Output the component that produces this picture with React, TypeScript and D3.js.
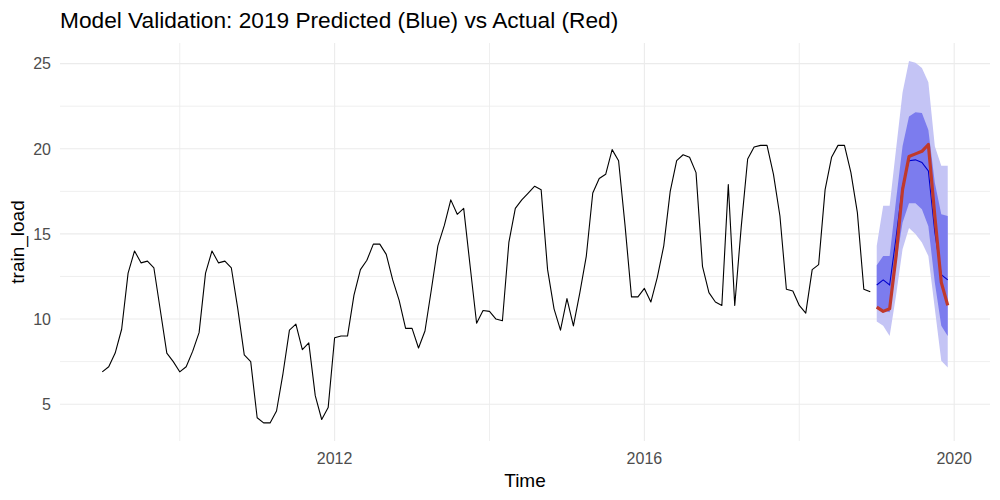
import React from "react";
import * as d3 from "d3";

const startYear = 2009;
const observed: number[] = [
  6.9, 7.2, 8.0, 9.4, 12.7, 14.0, 13.3, 13.4, 13.0, 10.5, 8.0, 7.5,
  6.9, 7.2, 8.1, 9.2, 12.7, 14.0, 13.3, 13.4, 13.0, 10.6, 7.9, 7.5,
  4.2, 3.9, 3.9, 4.6, 6.8, 9.35, 9.7, 8.2, 8.6, 5.5, 4.1, 4.8,
  8.9, 9.0, 9.0, 11.4, 12.9, 13.45, 14.4, 14.4, 13.8, 12.3, 11.1, 9.45,
  9.45, 8.3, 9.3, 11.75, 14.3, 15.5, 17.0, 16.15, 16.5, 13.1, 9.75, 10.5,
  10.45, 10.0, 9.9, 14.5, 16.5, 17.0, 17.4, 17.8, 17.6, 12.9, 10.6, 9.35,
  11.2, 9.6, 11.55, 13.7, 17.4, 18.25, 18.5, 19.95, 19.3, 15.5, 11.3, 11.3,
  11.8, 11.0, 12.45, 14.3, 17.5, 19.3, 19.65, 19.5, 18.6, 13.1, 11.55, 11.0,
  10.8, 17.9, 10.8, 15.4, 19.4, 20.1, 20.2, 20.2, 18.5, 16.05, 11.75, 11.65,
  10.8, 10.35, 12.9, 13.2, 17.6, 19.5, 20.2, 20.2, 18.6, 16.25, 11.75, 11.6,
];

const forecastYear = 2019;
const fcMean: number[] = [12.0, 12.3, 12.0, 14.8, 17.8, 19.3, 19.35, 19.2, 18.7, 15.1, 12.6, 12.3];
const fcLo80: number[] = [10.6, 10.5, 10.4, 13.3, 15.65, 16.8, 16.8, 16.45, 15.45, 12.15, 9.6, 9.0];
const fcHi80: number[] = [13.16, 13.7, 13.7, 17.0, 20.15, 21.9, 22.15, 22.1, 21.1, 18.0, 16.15, 16.05];
const fcLo95: number[] = [9.85, 9.6, 9.0, 11.4, 14.1, 15.35, 15.0, 14.5, 13.7, 10.6, 7.55, 7.15];
const fcHi95: number[] = [14.3, 16.65, 16.65, 20.0, 23.3, 25.15, 25.05, 24.75, 23.9, 20.15, 19.0, 19.0];
const actual2019: number[] = [10.7, 10.45, 10.6, 13.7, 17.6, 19.55, 19.7, 19.85, 20.25, 16.05, 12.15, 10.8];

const xMajorTicks = [2012, 2016, 2020];
const xMinorTicks = [2010, 2014, 2018];
const yMajorTicks = [5, 10, 15, 20, 25];
const yMinorTicks = [7.5, 12.5, 17.5, 22.5];

const title = "Model Validation: 2019 Predicted (Blue) vs Actual (Red)";
const xTitle = "Time";
const yTitle = "train_load";

const W = 1000;
const H = 500;
const margin = { left: 60, right: 10, top: 43, bottom: 59 };
const font = "'Liberation Sans', Arial, sans-serif";

export default function App() {
  const obs = observed.map((v, i) => ({ t: startYear + i / 12, v }));
  const fc = fcMean.map((v, i) => ({
    t: forecastYear + i / 12,
    mean: v,
    lo80: fcLo80[i],
    hi80: fcHi80[i],
    lo95: fcLo95[i],
    hi95: fcHi95[i],
    act: actual2019[i],
  }));

  const tMin = obs[0].t;
  const tMax = fc[fc.length - 1].t;
  const tPad = (tMax - tMin) * 0.05;
  const allY = [...observed, ...fcLo95, ...fcHi95, ...actual2019];
  const yMin = d3.min(allY) as number;
  const yMax = d3.max(allY) as number;
  const yPad = (yMax - yMin) * 0.05;

  const x = d3
    .scaleLinear()
    .domain([tMin - tPad, tMax + tPad])
    .range([margin.left, W - margin.right]);
  const y = d3
    .scaleLinear()
    .domain([yMin - yPad, yMax + yPad])
    .range([H - margin.bottom, margin.top]);

  const line = d3
    .line<{ t: number; v: number }>()
    .x((d) => x(d.t))
    .y((d) => y(d.v));

  const area95 = d3
    .area<(typeof fc)[number]>()
    .x((d) => x(d.t))
    .y0((d) => y(d.lo95))
    .y1((d) => y(d.hi95));
  const area80 = d3
    .area<(typeof fc)[number]>()
    .x((d) => x(d.t))
    .y0((d) => y(d.lo80))
    .y1((d) => y(d.hi80));

  const [px0, px1] = x.range();
  const [py0, py1] = y.range();

  return (
    <svg width={W} height={H} style={{ display: "block", position: "absolute", left: 0, top: 0 }} fontFamily={font}>
      <rect width={W} height={H} fill="#ffffff" />
      {/* minor grid */}
      {yMinorTicks.map((t) => (
        <line key={"ym" + t} x1={px0} x2={px1} y1={y(t)} y2={y(t)} stroke="#ebebeb" strokeWidth={0.8} />
      ))}
      {xMinorTicks.map((t) => (
        <line key={"xm" + t} x1={x(t)} x2={x(t)} y1={py1} y2={py0} stroke="#ebebeb" strokeWidth={0.8} />
      ))}
      {/* major grid */}
      {yMajorTicks.map((t) => (
        <line key={"yM" + t} x1={px0} x2={px1} y1={y(t)} y2={y(t)} stroke="#ebebeb" strokeWidth={1.1} />
      ))}
      {xMajorTicks.map((t) => (
        <line key={"xM" + t} x1={x(t)} x2={x(t)} y1={py1} y2={py0} stroke="#ebebeb" strokeWidth={1.1} />
      ))}

      {/* observed */}
      <path d={line(obs) || ""} fill="none" stroke="#000000" strokeWidth={1.1} strokeLinejoin="round" />

      {/* forecast bands */}
      <path d={area95(fc) || ""} fill="#c4c4f5" />
      <path d={area80(fc) || ""} fill="#7c7cee" />
      <path
        d={line(fc.map((d) => ({ t: d.t, v: d.mean }))) || ""}
        fill="none"
        stroke="#0000cc"
        strokeWidth={1.1}
      />
      <path
        d={line(fc.map((d) => ({ t: d.t, v: d.act }))) || ""}
        fill="none"
        stroke="#c0392b"
        strokeWidth={3.2}
        strokeLinejoin="round"
      />

      {/* axis labels */}
      {yMajorTicks.map((t) => (
        <text key={"yl" + t} x={51} y={y(t)} dy="0.36em" textAnchor="end" fontSize={16} fill="#4d4d4d">
          {t}
        </text>
      ))}
      {xMajorTicks.map((t) => (
        <text key={"xl" + t} x={x(t)} y={464} textAnchor="middle" fontSize={16} fill="#4d4d4d">
          {t}
        </text>
      ))}

      <text x={(px0 + px1) / 2} y={487} textAnchor="middle" fontSize={19} fill="#000">
        {xTitle}
      </text>
      <text
        transform={`translate(${24},${(py0 + py1) / 2}) rotate(-90)`}
        textAnchor="middle"
        fontSize={19}
        fill="#000"
      >
        {yTitle}
      </text>
      <text x={60} y={28.3} fontSize={22.7} fill="#000">
        {title}
      </text>
    </svg>
  );
}
